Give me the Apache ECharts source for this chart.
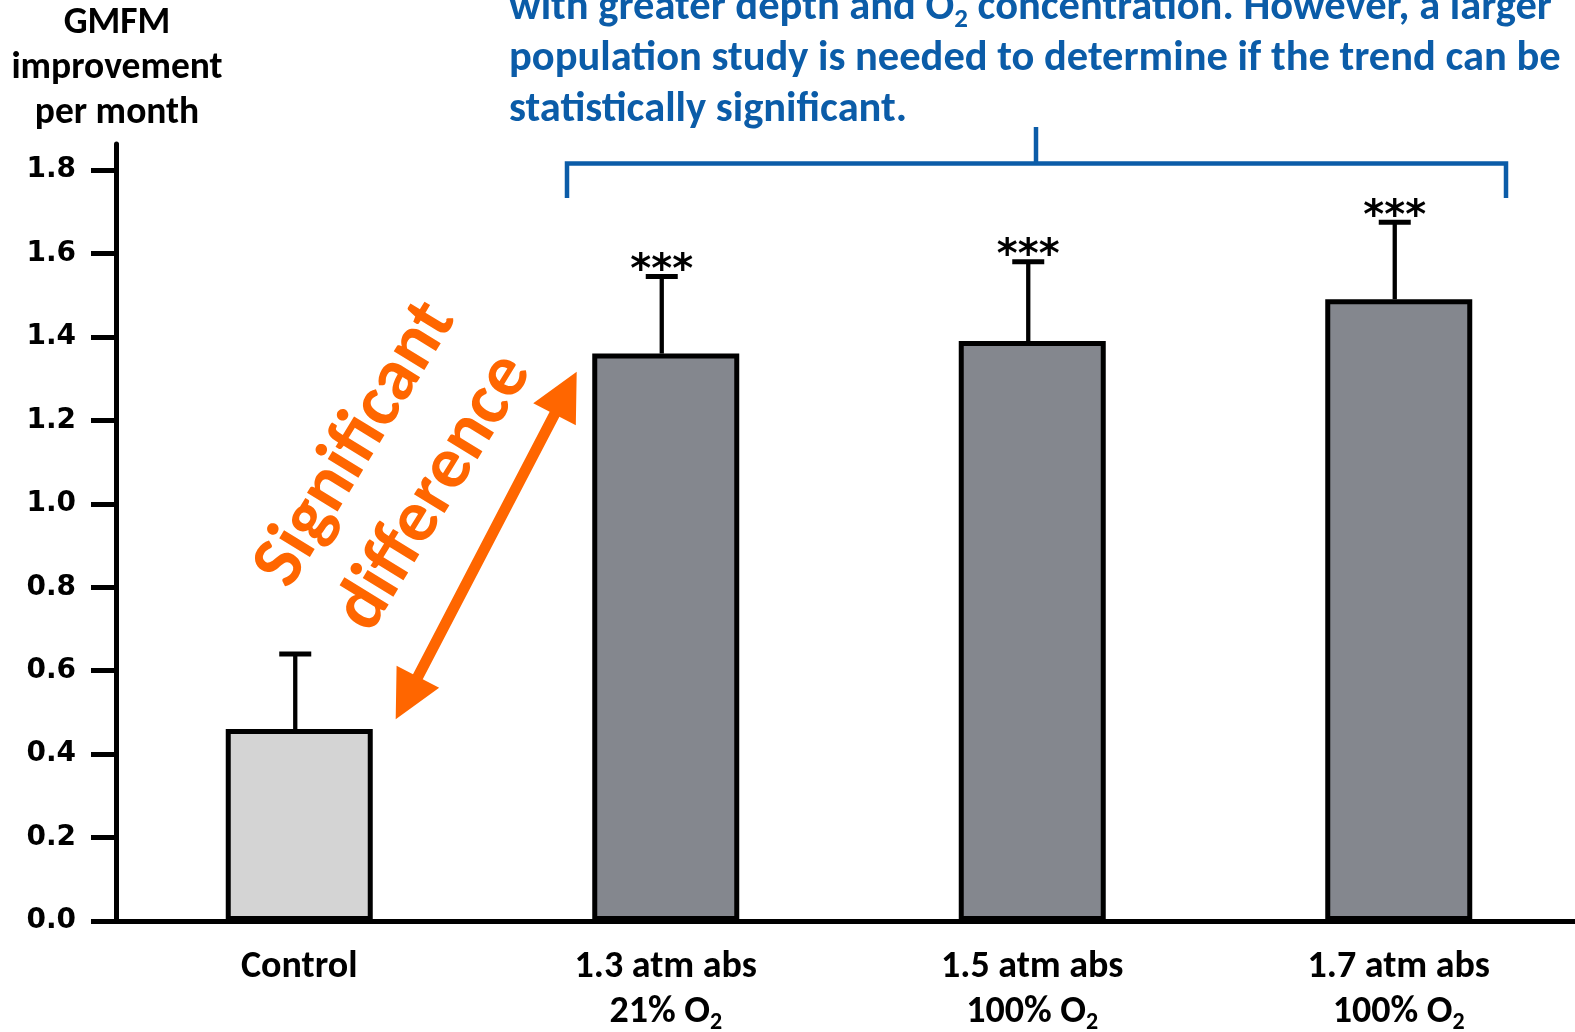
<!DOCTYPE html>
<html>
<head>
<meta charset="utf-8">
<script src="https://cdn.jsdelivr.net/npm/echarts@6/dist/echarts.min.js"></script>
<style>
  html, body { margin: 0; padding: 0; background: #ffffff; overflow: hidden; }
  #chart { width: 1582px; height: 1032px; }
</style>
</head>
<body>
<div id="chart"></div>
<script>
// Groups, mean GMFM gain per month and the upper error (SD)
const categories = ['Control', '1.3 atm abs\n21% O₂', '1.5 atm abs\n100% O₂', '1.7 atm abs\n100% O₂'];
const means = [0.46, 1.36, 1.39, 1.49];
const errors = [0.18, 0.185, 0.19, 0.185];
const significance = ['', '***', '***', '***'];
const tickValues = [0, 0.2, 0.4, 0.6, 0.8, 1.0, 1.2, 1.4, 1.6, 1.8];

const SANS = 'Carlito, Lato, "Open Sans", sans-serif';
const BLUE = '#0b5ca8';
const ORANGE = '#ff6600';

const chart = echarts.init(document.getElementById('chart'), null, { renderer: 'canvas' });

const barData = means.map((v, i) => ({
  value: v,
  itemStyle: { color: i === 0 ? '#d4d4d4' : '#84878e' }
}));
const errData = means.map((v, i) => [i, v, v + errors[i]]);

// Double-headed arrow between the control bar and the first treatment bar
function arrowPoints(a, b, headLen, headHalf, shaftHalf) {
  const dx = b[0] - a[0], dy = b[1] - a[1];
  const len = Math.hypot(dx, dy);
  const u = [dx / len, dy / len];
  const n = [-u[1], u[0]];
  const p = (base, along, across) => [base[0] + u[0] * along + n[0] * across, base[1] + u[1] * along + n[1] * across];
  return [
    a,
    p(a, headLen, headHalf), p(a, headLen, shaftHalf),
    p(b, -headLen, shaftHalf), p(b, -headLen, headHalf),
    b,
    p(b, -headLen, -headHalf), p(b, -headLen, -shaftHalf),
    p(a, headLen, -shaftHalf), p(a, headLen, -headHalf)
  ];
}

const option = {
  backgroundColor: '#ffffff',
  animation: false,
  grid: { left: 116, right: 0, top: 144, bottom: 111, containLabel: false, outerBoundsMode: 'none' },
  xAxis: {
    type: 'category',
    data: categories,
    axisLine: { show: true, lineStyle: { color: '#000', width: 5 } },
    axisTick: { show: false },
    axisLabel: {
      interval: 0,
      margin: 24,
      verticalAlign: 'top',
      color: '#000',
      fontFamily: SANS,
      fontWeight: 'bold',
      fontSize: 38,
      lineHeight: 45,
      formatter: v => v.replace(/₂/g, '{sub|2}'),
      rich: {
        sub: { fontFamily: SANS, fontWeight: 'bold', fontSize: 24, lineHeight: 26, verticalAlign: 'bottom', color: '#000' }
      }
    },
    splitLine: { show: false }
  },
  yAxis: {
    type: 'value',
    min: 0,
    max: 1.8623,
    interval: 0.2,
    axisLine: { show: true, lineStyle: { color: '#000', width: 5 } },
    axisTick: { show: true, length: 25, lineStyle: { color: '#000', width: 5 }, customValues: tickValues },
    axisLabel: {
      customValues: tickValues,
      margin: 40,
      color: '#000',
      fontFamily: '"DejaVu Sans", sans-serif',
      fontWeight: 'bold',
      fontSize: 28,
      formatter: v => v.toFixed(1)
    },
    splitLine: { show: false }
  },
  series: [
    {
      type: 'bar',
      data: barData,
      barWidth: 147,
      itemStyle: { borderColor: '#000', borderWidth: 5 },
      z: 2
    },
    {
      type: 'custom',
      data: errData,
      z: 3,
      renderItem(params, api) {
        const i = api.value(0);
        const base = api.coord([i, api.value(1)]);
        const top = api.coord([i, api.value(2)]);
        const x = base[0] - 4;
        return {
          type: 'group',
          children: [
            { type: 'line', shape: { x1: x, y1: base[1], x2: x, y2: top[1] }, style: { stroke: '#000', lineWidth: 4.3 } },
            { type: 'line', shape: { x1: x - 16, y1: top[1], x2: x + 16, y2: top[1] }, style: { stroke: '#000', lineWidth: 5 } },
            {
              type: 'text', x: x, y: top[1] - 5,
              style: {
                text: significance[i], fill: '#000',
                font: 'bold 40px "DejaVu Sans", sans-serif',
                align: 'center', verticalAlign: 'middle'
              }
            }
          ]
        };
      }
    }
  ],
  graphic: [
    // y-axis title
    {
      type: 'text', x: 117, y: 69,
      style: {
        text: 'GMFM\nimprovement\nper month',
        fill: '#000', fontFamily: SANS, fontWeight: 'bold', fontSize: 37.5,
        lineHeight: 45, align: 'center', verticalAlign: 'middle'
      }
    },
    // note about the hyperbaric groups
    {
      type: 'text', x: 509, y: 59.5,
      style: {
        text: 'with greater depth and O{sub|2} concentration. However, a larger\npopulation study is needed to determine if the trend can be\nstatistically significant.',
        fill: BLUE, fontFamily: SANS, fontWeight: 'bold', fontSize: 42.5,
        lineHeight: 51, align: 'left', verticalAlign: 'middle',
        rich: {
          sub: { fill: BLUE, fontFamily: SANS, fontWeight: 'bold', fontSize: 27, lineHeight: 30, verticalAlign: 'bottom' }
        }
      }
    },
    // bracket over the three treatment groups
    {
      type: 'polyline',
      shape: { points: [[567, 198], [567, 163.5], [1506, 163.5], [1506, 198]] },
      style: { stroke: BLUE, lineWidth: 4.5, fill: null, lineJoin: 'miter' }
    },
    {
      type: 'line',
      shape: { x1: 1036, y1: 127, x2: 1036, y2: 163.5 },
      style: { stroke: BLUE, lineWidth: 4.5 }
    },
    // significance arrow
    {
      type: 'polygon',
      shape: { points: arrowPoints([395.7, 719.3], [576.7, 371.7], 48, 24, 5.5) },
      style: { fill: ORANGE, stroke: null }
    },
    {
      type: 'text', x: 396, y: 469, rotation: 58.5 * Math.PI / 180,
      style: {
        text: 'Significant\ndifference',
        fill: ORANGE, fontFamily: SANS, fontSize: 74, fontWeight: 'bold',
        lineHeight: 92, align: 'center', verticalAlign: 'middle'
      }
    }
  ]
};

chart.setOption(option);
</script>
</body>
</html>
